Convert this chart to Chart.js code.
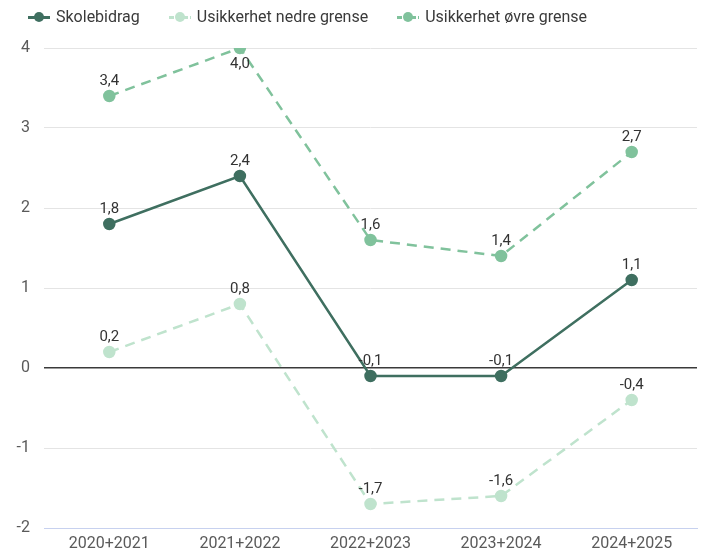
<!DOCTYPE html>
<html>
<head>
<meta charset="utf-8">
<script src="https://cdn.jsdelivr.net/npm/chart.js@4.4.0/dist/chart.umd.min.js"></script>
<style>
  html, body { margin: 0; padding: 0; background: #fff; }
  #wrap { position: relative; width: 705px; height: 555px; }
  #legend { position: absolute; left: 28px; top: 7px; display: flex; font: 16px Roboto, sans-serif; color: #3a3a3a; }
  .item { display: flex; align-items: center; margin-right: 29px; }
  .mark { position: relative; width: 22px; height: 10px; margin-right: 6px; }
  .mark .ln { position: absolute; left: 0; right: 0; top: 4px; height: 3px; }
  .mark .dot { position: absolute; left: 6px; top: 0; width: 10px; height: 10px; border-radius: 50%; }
</style>
</head>
<body>
<div id="wrap">
  <div id="legend"></div>
  <canvas id="chart" width="705" height="555"></canvas>
</div>
<script>
const categories = ['2020+2021', '2021+2022', '2022+2023', '2023+2024', '2024+2025'];
const skolebidrag = [1.8, 2.4, -0.1, -0.1, 1.1];
const nedreGrense = [0.2, 0.8, -1.7, -1.6, -0.4];
const ovreGrense = [3.4, 4.0, 1.6, 1.4, 2.7];
const yTicks = [-2, -1, 0, 1, 2, 3, 4];

const colors = {
    main: '#3f6f60',
    lower: '#bfe3cd',
    upper: '#80c29c',
    text: '#333',
    tick: '#5a5a5a',
    grid: '#e4e4e4'
};

const series = [
    { label: 'Skolebidrag', data: skolebidrag, color: colors.main, dash: [] },
    { label: 'Usikkerhet nedre grense', data: nedreGrense, color: colors.lower, dash: [10, 7] },
    { label: 'Usikkerhet øvre grense', data: ovreGrense, color: colors.upper, dash: [10, 7] }
];

// legend as html
const legendEl = document.getElementById('legend');
series.forEach(s => {
    const item = document.createElement('div');
    item.className = 'item';
    const lineStyle = s.dash.length
        ? `background: repeating-linear-gradient(90deg, ${s.color} 0 5px, transparent 5px 7px);`
        : `background: ${s.color};`;
    item.innerHTML = `<span class="mark"><span class="ln" style="${lineStyle}"></span><span class="dot" style="background:${s.color}"></span></span><span>${s.label}</span>`;
    legendEl.appendChild(item);
});

const fmt = v => v.toFixed(1).replace('.', ',');

const valueLabels = {
    id: 'valueLabels',
    afterDatasetsDraw(chart) {
        const ctx = chart.ctx;
        ctx.save();
        ctx.font = '15px Roboto, sans-serif';
        ctx.fillStyle = colors.text;
        ctx.textAlign = 'center';
        chart.data.datasets.forEach((ds, i) => {
            const meta = chart.getDatasetMeta(i);
            meta.data.forEach((pt, j) => {
                const v = ds.data[j];
                if (pt.y - 20 < chart.chartArea.top) {
                    ctx.textBaseline = 'top';
                    ctx.fillText(fmt(v), pt.x, pt.y + 9);
                } else {
                    ctx.textBaseline = 'bottom';
                    ctx.fillText(fmt(v), pt.x, pt.y - 7);
                }
            });
        });
        ctx.restore();
    }
};

new Chart(document.getElementById('chart'), {
    type: 'line',
    data: {
        labels: categories,
        datasets: series.map((s, i) => ({
            label: s.label,
            data: s.data,
            borderColor: s.color,
            backgroundColor: s.color,
            pointBackgroundColor: s.color,
            pointBorderColor: s.color,
            pointRadius: 5,
            borderWidth: 2.5,
            borderDash: s.dash,
            tension: 0,
            order: i === 0 ? 0 : 1
        }))
    },
    options: {
        responsive: false,
        animation: false,
        layout: { padding: { top: 48, right: 8, left: 0, bottom: 0 } },
        plugins: { legend: { display: false }, tooltip: { enabled: false } },
        scales: {
            x: {
                offset: true,
                afterFit: scale => { scale.height = 27; },
                grid: { display: false, drawTicks: false },
                border: { color: '#c7d1ef', width: 1 },
                ticks: { color: colors.tick, font: { family: 'Roboto', size: 16 }, padding: 6 }
            },
            y: {
                min: -2,
                max: 4,
                afterBuildTicks: scale => { scale.ticks = yTicks.map(v => ({ value: v })); },
                afterFit: scale => { scale.width = 44; },
                border: { display: false },
                grid: {
                    drawTicks: false,
                    color: ctx => ctx.tick && ctx.tick.value === 0 ? '#3a3a3a' : (ctx.tick && ctx.tick.value === -2 ? 'rgba(0,0,0,0)' : colors.grid),
                    lineWidth: ctx => ctx.tick && ctx.tick.value === 0 ? 1.6 : 1
                },
                ticks: { color: colors.tick, font: { family: 'Roboto', size: 16 }, padding: 14 }
            }
        }
    },
    plugins: [valueLabels]
});
</script>
</body>
</html>
